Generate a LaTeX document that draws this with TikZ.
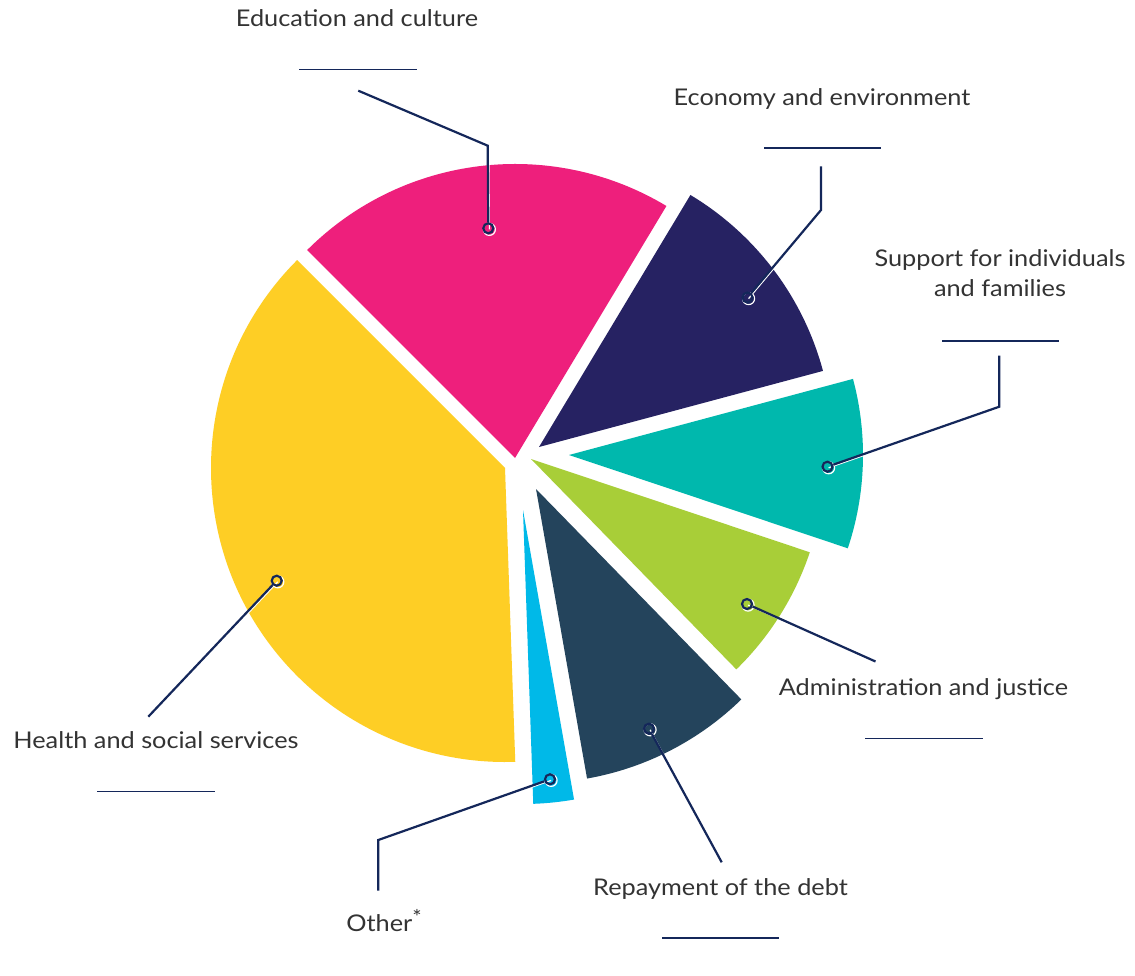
\documentclass[tikz,border=0pt]{standalone}
\usepackage{fontspec}
\setmainfont{Lato}[FakeStretch=1.1]
\definecolor{cpink}{HTML}{EE1F7C}
\definecolor{cpurple}{HTML}{262262}
\definecolor{cteal}{HTML}{00B8AD}
\definecolor{cgreen}{HTML}{A8CE38}
\definecolor{cslate}{HTML}{24445C}
\definecolor{ccyan}{HTML}{00B9E8}
\definecolor{cyellow}{HTML}{FECE25}
\definecolor{navy}{HTML}{14275A}
\definecolor{txtgray}{HTML}{333333}
\newcommand\pieslice[5]{%
  \fill[#1] (#2,#3) -- ++(-#4:294) arc[start angle=-#4, end angle=-#5, radius=294] -- cycle;}
\tikzset{
  lbl/.style={font=\fontsize{23}{28}\selectfont, text=txtgray, inner sep=0pt, anchor=base, align=center},
  lead/.style={draw=navy, line width=2.2pt, line join=miter},
  halo/.style={draw=white, line width=1.2pt},
  dot/.style={circle, draw=navy, line width=2.2pt, minimum size=10pt, inner sep=0pt},
  uline/.style={draw=navy, line width=1.6pt}
}
\begin{document}
\begin{tikzpicture}[x=1pt,y=-1pt]
\useasboundingbox (0,0) rectangle (1135,976);
\fill[white] (0,0) rectangle (1135,976);
% slices
\pieslice{cpink}{515}{458}{59}{135}
\pieslice{cpurple}{539}{447}{15}{59}
\pieslice{cteal}{569}{455}{-18.5}{15}
\pieslice{cgreen}{531}{459}{-45.7}{-18.5}
\pieslice{cslate}{536}{489}{-80}{-45.7}
\pieslice{ccyan}{523}{510}{-88}{-80}
\pieslice{cyellow}{505}{468}{135}{272}
% bends and ends
\coordinate (b-edu) at (487.7,145.7);
\coordinate (e-edu) at (358.3,90.7);
\coordinate (b-eco) at (821,210);
\coordinate (e-eco) at (821,166.5);
\coordinate (b-sup) at (999.3,406.7);
\coordinate (e-sup) at (999.3,355.5);
\coordinate (e-adm) at (875.5,661.5);
\coordinate (e-dbt) at (721.7,862.3);
\coordinate (b-oth) at (378.3,840);
\coordinate (e-oth) at (378.3,890.7);
\coordinate (e-hlt) at (148.3,716.7);
\coordinate (p-edu) at (488.3,228.3);
\coordinate (p-eco) at (747.5,297.5);
\coordinate (p-sup) at (827.5,466.7);
\coordinate (p-adm) at (747,604);
\coordinate (p-dbt) at (649,728.7);
\coordinate (p-oth) at (550,779.3);
\coordinate (p-hlt) at (276.7,580.7);
% halos (light edge below the leaders)
\foreach \d/\t in {p-edu/b-edu, p-eco/b-eco, p-sup/b-sup, p-adm/e-adm, p-dbt/e-dbt, p-oth/b-oth, p-hlt/e-hlt}{
  \draw[halo] ([shift={(1.1,1.1)}]\d) circle (6);
  \draw[halo] ([shift={(1.1,1.1)}]\d) -- ([shift={(1.1,1.1)}]\t);
}
% dots
\node[dot] (d-edu) at (p-edu) {};
\node[dot] (d-eco) at (p-eco) {};
\node[dot] (d-sup) at (p-sup) {};
\node[dot] (d-adm) at (p-adm) {};
\node[dot] (d-dbt) at (p-dbt) {};
\node[dot] (d-oth) at (p-oth) {};
\node[dot] (d-hlt) at (p-hlt) {};
% leaders
\draw[lead] (d-edu) -- (b-edu) -- (e-edu);
\draw[lead] (d-eco) -- (b-eco) -- (e-eco);
\draw[lead] (d-sup) -- (b-sup) -- (e-sup);
\draw[lead] (d-adm) -- (e-adm);
\draw[lead] (d-dbt) -- (e-dbt);
\draw[lead] (d-oth) -- (b-oth) -- (e-oth);
\draw[lead] (d-hlt) -- (e-hlt);
% labels
\node[lbl] (l-edu) at (357,27) {Education and culture};
\node[lbl] (l-eco) at (822,106) {Economy and environment};
\node[lbl] (l-sup1) at (1000,266.7) {Support for individuals};
\node[lbl] (l-sup2) at (1000,296.7) {and families};
\node[lbl] (l-adm) at (923.5,695) {Administration and justice};
\node[lbl] (l-dbt) at (720.5,895) {Repayment of the debt};
\node[lbl] (l-oth) at (384,931.7) {Other\raisebox{7pt}{\fontsize{20}{20}\selectfont *}};
\node[lbl] (l-hlt) at (156,748.3) {Health and social services};
% underlines
\draw[uline] (299,69.7) -- (416.7,69.7);
\draw[uline] (764,148) -- (881,148);
\draw[uline] (942,340.7) -- (1059,340.7);
\draw[uline] (865,738.3) -- (982.7,738.3);
\draw[uline] (662,937.7) -- (779,937.7);
\draw[uline] (97,791.3) -- (214.7,791.3);
\end{tikzpicture}
\end{document}
